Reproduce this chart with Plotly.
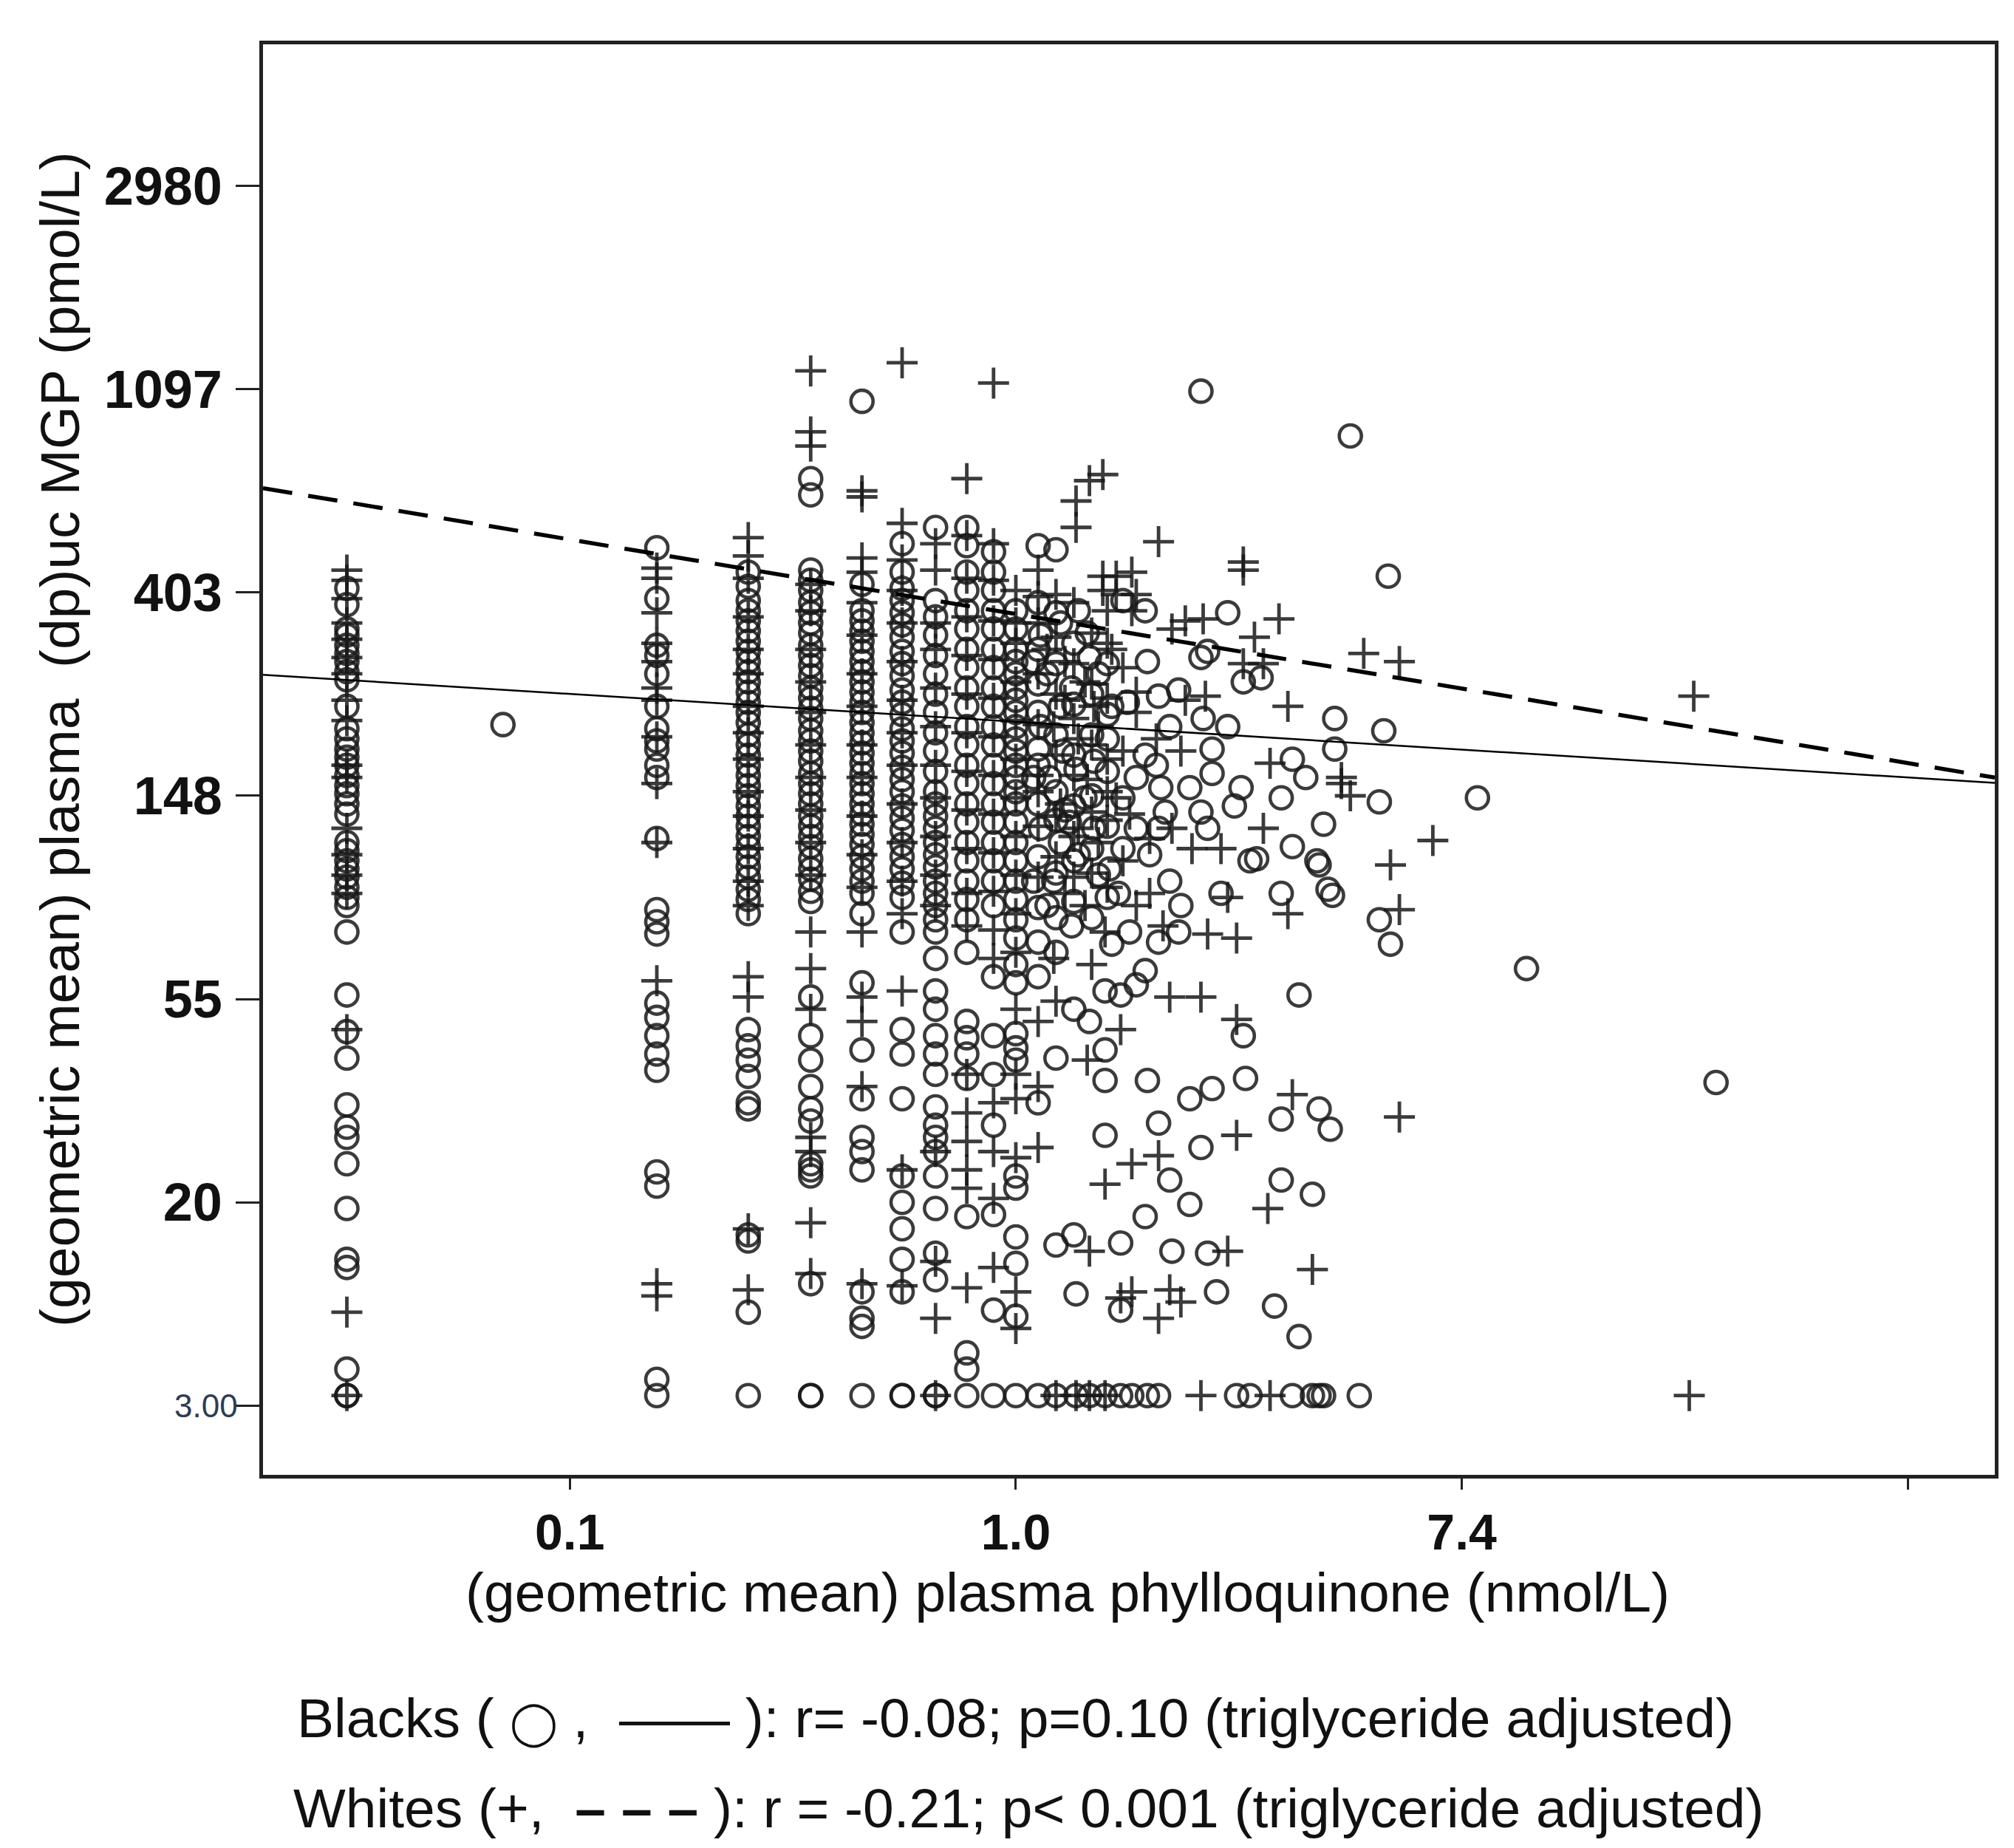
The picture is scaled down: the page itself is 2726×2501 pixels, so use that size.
import plotly.graph_objects as go

# All values are on the natural-log scale used by the chart
# (ln phylloquinone [nmol/L], ln (dp)uc MGP [pmol/L]); ticks show back-transformed values.

# Phylloquinone levels where many measurements stack in columns (ln nmol/L)
pk_levels_ln = [-3.00, -2.30, -1.61, -1.20, -0.92, -0.69, -0.51, -0.36, -0.22, -0.10, 0.00]

black_col_mgp_ln = [
    [6.02, 5.94, 5.82, 5.79, 5.74, 5.70, 5.66, 5.61, 5.57, 5.44, 5.33, 5.28, 5.23, 5.19, 5.15, 5.10, 5.05, 5.01,
     4.96, 4.91, 4.77, 4.73, 4.68, 4.64, 4.60, 4.55, 4.50, 4.46, 4.33, 4.02, 3.84, 3.71, 3.48, 3.37, 3.32, 3.19,
     2.97, 2.72, 2.68, 2.18, 2.05, 2.05],
    [5.35],
    [6.22, 5.97, 5.74, 5.69, 5.60, 5.44, 5.33, 5.27, 5.23, 5.15, 5.09, 4.79, 4.44, 4.38, 4.32, 3.98, 3.91, 3.82,
     3.73, 3.65, 3.15, 3.08, 2.13, 2.05],
    [6.10, 6.03, 5.96, 5.91, 5.86, 5.81, 5.76, 5.71, 5.66, 5.61, 5.56, 5.51, 5.46, 5.41, 5.36, 5.30, 5.25, 5.20,
     5.15, 5.10, 5.05, 5.00, 4.95, 4.90, 4.85, 4.80, 4.75, 4.70, 4.65, 4.60, 4.54, 4.49, 4.42, 3.85, 3.77, 3.70,
     3.62, 3.49, 3.46, 2.84, 2.81, 2.46, 2.05],
    [6.56, 6.48, 6.11, 6.06, 6.01, 5.95, 5.90, 5.85, 5.80, 5.74, 5.69, 5.64, 5.59, 5.53, 5.48, 5.43, 5.38, 5.32,
     5.27, 5.22, 5.17, 5.11, 5.06, 5.01, 4.96, 4.90, 4.85, 4.80, 4.75, 4.69, 4.64, 4.59, 4.53, 4.48, 4.01, 3.82,
     3.70, 3.57, 3.46, 3.40, 3.19, 3.16, 3.13, 2.60, 2.05, 2.05],
    [6.94, 6.04, 5.91, 5.86, 5.81, 5.76, 5.71, 5.66, 5.61, 5.56, 5.51, 5.46, 5.41, 5.36, 5.31, 5.26, 5.21, 5.16,
     5.11, 5.06, 5.01, 4.96, 4.91, 4.86, 4.81, 4.76, 4.70, 4.64, 4.58, 4.52, 4.42, 4.08, 3.75, 3.51, 3.32, 3.25,
     3.16, 2.56, 2.43, 2.39, 2.05],
    [6.24, 6.10, 6.02, 5.96, 5.90, 5.84, 5.78, 5.71, 5.65, 5.59, 5.52, 5.46, 5.40, 5.33, 5.27, 5.21, 5.14, 5.08,
     5.02, 4.95, 4.89, 4.83, 4.76, 4.70, 4.64, 4.57, 4.50, 4.33, 3.85, 3.73, 3.51, 3.13, 3.00, 2.87, 2.72, 2.56,
     2.05, 2.05],
    [6.32, 5.96, 5.88, 5.79, 5.69, 5.60, 5.50, 5.41, 5.31, 5.22, 5.12, 5.02, 4.96, 4.90, 4.84, 4.77, 4.71, 4.65,
     4.58, 4.52, 4.46, 4.39, 4.33, 4.20, 4.04, 3.95, 3.82, 3.73, 3.63, 3.47, 3.38, 3.32, 3.25, 3.13, 2.97, 2.75,
     2.62, 2.05, 2.05],
    [6.32, 6.23, 6.10, 6.01, 5.91, 5.82, 5.72, 5.63, 5.53, 5.44, 5.34, 5.25, 5.15, 5.06, 4.96, 4.87, 4.77, 4.68,
     4.58, 4.49, 4.39, 4.23, 3.89, 3.81, 3.73, 3.61, 2.93, 2.26, 2.18, 2.05],
    [6.20, 6.10, 6.01, 5.91, 5.82, 5.72, 5.63, 5.53, 5.44, 5.34, 5.25, 5.15, 5.06, 4.96, 4.87, 4.77, 4.68, 4.58,
     4.46, 4.11, 3.82, 3.63, 3.38, 2.94, 2.47, 2.05],
    [5.91, 5.82, 5.72, 5.66, 5.60, 5.53, 5.47, 5.41, 5.34, 5.28, 5.22, 5.15, 5.09, 5.02, 4.96, 4.87, 4.77, 4.68,
     4.58, 4.49, 4.39, 4.30, 4.17, 4.08, 3.83, 3.76, 3.70, 3.13, 3.07, 2.83, 2.70, 2.44, 2.05],
]

white_col_mgp_ln = [
    [6.11, 6.06, 5.97, 5.85, 5.77, 5.68, 5.60, 5.47, 5.37, 5.15, 5.09, 4.84, 4.71, 4.61, 4.52, 3.85, 2.46, 2.05],
    [],
    [6.12, 6.07, 5.90, 5.75, 5.66, 5.53, 5.47, 5.29, 5.06, 4.77, 4.09, 2.60, 2.54],
    [6.27, 6.18, 6.07, 5.88, 5.72, 5.60, 5.44, 5.31, 5.18, 5.02, 4.90, 4.74, 4.58, 4.46, 4.11, 4.01, 2.87, 2.57],
    [7.09, 6.79, 6.72, 6.04, 5.91, 5.72, 5.56, 5.41, 5.25, 5.09, 4.93, 4.77, 4.61, 4.33, 4.15, 3.95, 3.32, 3.25,
     2.90, 2.65],
    [6.50, 6.47, 6.17, 6.10, 5.95, 5.79, 5.60, 5.44, 5.25, 5.09, 4.90, 4.71, 4.55, 4.33, 4.01, 3.89, 3.57, 2.60],
    [7.13, 6.34, 6.16, 6.01, 5.85, 5.66, 5.47, 5.31, 5.15, 4.96, 4.77, 4.58, 4.42, 4.04, 3.16, 2.59],
    [6.24, 6.11, 5.85, 5.72, 5.53, 5.34, 5.15, 4.99, 4.80, 4.61, 4.46, 3.25, 2.71, 2.43, 2.05],
    [6.56, 6.28, 6.07, 5.88, 5.69, 5.50, 5.31, 5.12, 4.93, 4.74, 4.52, 4.36, 3.63, 3.44, 3.30, 3.16, 3.07, 2.58],
    [7.03, 6.24, 6.06, 5.86, 5.67, 5.48, 5.29, 5.10, 4.91, 4.72, 4.53, 4.34, 4.20, 3.49, 3.25, 3.02, 2.68],
    [6.01, 5.85, 5.75, 5.56, 5.37, 5.18, 4.99, 4.80, 4.61, 4.42, 4.23, 3.95, 3.63, 3.51, 3.22, 2.56, 2.38],
]

# Scattered measurements above 1 nmol/L: (ln phylloquinone, ln MGP)
black_scatter = [
    (0.83, 6.99), (1.50, 6.77), (1.67, 6.08), (0.10, 6.23), (0.18, 6.21), (0.95, 5.90), (0.58, 5.91), (0.48, 5.96),
    (0.32, 5.80), (0.33, 5.68), (0.59, 5.66), (0.83, 5.68), (0.86, 5.71), (1.02, 5.56), (1.10, 5.58), (0.73, 5.52),
    (0.64, 5.49), (0.50, 5.46), (0.84, 5.38), (0.95, 5.34), (1.43, 5.38), (1.65, 5.32), (1.43, 5.23), (0.88, 5.23),
    (1.24, 5.18), (1.30, 5.09), (0.88, 5.11), (0.78, 5.04), (1.01, 5.04), (0.98, 4.95), (1.19, 4.99), (1.63, 4.97),
    (2.07, 4.99), (1.38, 4.86), (1.24, 4.75), (1.35, 4.68), (1.08, 4.69), (0.83, 4.92), (0.86, 4.84), (0.65, 5.04),
    (0.58, 5.20), (0.41, 5.28), (0.35, 5.17), (0.27, 5.13), (0.10, 5.23), (0.35, 4.84), (0.24, 4.87), (0.67, 4.92),
    (0.64, 4.84), (0.42, 4.64), (1.05, 4.68), (1.36, 4.66), (1.19, 4.52), (1.40, 4.54), (1.42, 4.51), (1.63, 4.39),
    (1.68, 4.27), (2.29, 4.15), (1.27, 4.02), (1.02, 3.82), (1.03, 3.61), (0.88, 3.56), (0.78, 3.51), (0.64, 3.39),
    (0.40, 3.33), (0.83, 3.27), (1.36, 3.46), (1.41, 3.36), (1.19, 3.41), (1.19, 3.11), (1.33, 3.04), (0.69, 3.11),
    (0.78, 2.99), (0.58, 2.93), (0.47, 2.80), (0.70, 2.76), (0.86, 2.75), (0.90, 2.56), (1.16, 2.49), (1.27, 2.34),
    (0.27, 2.55), (0.47, 2.47), (0.26, 2.84), (0.18, 2.79), (0.64, 4.28), (0.73, 4.33), (0.58, 4.14), (0.54, 4.07),
    (0.47, 4.02), (0.40, 4.04), (0.33, 3.89), (0.26, 3.95), (0.18, 3.71), (0.40, 3.60), (0.40, 3.75), (0.59, 3.60),
    (0.18, 4.23), (0.10, 4.28), (0.10, 4.11), (0.10, 3.49), (3.14, 3.59),
    (0.11, 4.84), (0.20, 4.77), (0.28, 4.71), (0.37, 4.61), (0.46, 4.52), (0.17, 4.58), (0.25, 4.36), (0.43, 4.27),
    (0.51, 4.33), (0.14, 4.46), (0.22, 4.93), (0.31, 4.99), (0.48, 4.99), (0.54, 5.09), (0.63, 5.15), (0.69, 5.34),
    (0.43, 5.44), (0.20, 5.44), (0.14, 5.60), (0.25, 5.53), (0.37, 5.60), (0.11, 5.79), (0.20, 5.85), (0.28, 5.91),
    (0.15, 5.09), (0.11, 5.34), (0.21, 5.22), (0.54, 4.84), (0.60, 4.71), (0.69, 4.58), (0.48, 4.74), (0.74, 4.46),
    (0.92, 4.52), (0.08, 5.66), (0.08, 5.09), (0.08, 4.58),
    (0.10, 5.95), (0.10, 5.72), (0.10, 5.55), (0.10, 5.41), (0.10, 5.15), (0.10, 4.96), (0.10, 4.70), (0.10, 4.45),
    (0.18, 5.90), (0.18, 5.65), (0.18, 5.30), (0.18, 5.02), (0.18, 4.88), (0.18, 4.62), (0.18, 4.40),
    (0.26, 5.75), (0.26, 5.45), (0.26, 5.20), (0.26, 4.95), (0.26, 4.68), (0.26, 4.48),
    (0.34, 5.50), (0.34, 5.30), (0.34, 5.00), (0.34, 4.74), (0.34, 4.40),
    (0.41, 5.65), (0.41, 5.40), (0.41, 5.12), (0.41, 4.85), (0.41, 4.50),
    (0.10, 2.05), (0.18, 2.05), (0.27, 2.05), (0.33, 2.05), (0.40, 2.05), (0.47, 2.05), (0.52, 2.05), (0.59, 2.05),
    (0.64, 2.05), (0.99, 2.05), (1.05, 2.05), (1.24, 2.05), (1.33, 2.05), (1.36, 2.05), (1.38, 2.05), (1.54, 2.05),
]

white_scatter = [
    (0.27, 6.32), (0.27, 6.45), (0.33, 6.55), (0.39, 6.58), (0.64, 6.25), (1.02, 6.15), (1.02, 6.11), (1.18, 5.87),
    (1.56, 5.70), (1.72, 5.66), (1.07, 5.78), (0.76, 5.86), (0.84, 5.87), (0.52, 6.10), (0.39, 6.08), (0.45, 6.08),
    (0.39, 6.01), (0.45, 5.99), (0.54, 5.99), (0.41, 5.91), (0.52, 5.91), (0.70, 5.82), (1.02, 5.65), (1.11, 5.65),
    (1.22, 5.44), (1.14, 5.16), (1.46, 5.06), (1.50, 5.00), (1.46, 5.09), (0.76, 5.47), (0.85, 5.49), (0.54, 5.51),
    (0.54, 5.41), (0.35, 5.44), (0.22, 5.47), (0.10, 5.98), (0.18, 5.99), (0.10, 6.11), (0.41, 5.02), (0.45, 4.99),
    (0.51, 4.91), (0.74, 5.22), (0.70, 4.84), (0.60, 4.79), (0.79, 4.74), (0.92, 4.74), (1.11, 4.84), (1.87, 4.78),
    (1.68, 4.66), (1.72, 4.44), (1.22, 4.42), (0.95, 4.50), (0.86, 4.32), (0.99, 4.30), (0.69, 4.01), (0.83, 4.01),
    (0.47, 3.85), (0.32, 3.70), (0.99, 3.90), (1.24, 3.53), (1.72, 3.42), (0.99, 3.33), (0.64, 3.23), (0.52, 3.19),
    (0.40, 3.09), (1.13, 2.97), (1.33, 2.67), (0.95, 2.76), (0.33, 2.76), (0.52, 2.56), (0.47, 2.53), (0.69, 2.57),
    (0.74, 2.51), (0.64, 2.43), (0.10, 3.27), (0.10, 3.57), (0.10, 3.89), (0.18, 3.99), (0.32, 5.08), (0.10, 5.02),
    (3.04, 5.49),
    (0.14, 5.72), (0.22, 5.66), (0.31, 5.56), (0.43, 5.72), (0.48, 5.63), (0.17, 5.34), (0.28, 5.28), (0.37, 5.34),
    (0.48, 5.22), (0.63, 5.28), (0.20, 4.96), (0.28, 4.84), (0.37, 4.77), (0.48, 4.68), (0.60, 4.52), (0.22, 4.52),
    (0.31, 4.46), (0.40, 4.33), (0.54, 4.46), (0.66, 4.36), (0.17, 4.20), (0.34, 4.17),
    (0.10, 5.85), (0.10, 5.60), (0.10, 5.35), (0.10, 5.10), (0.10, 4.85), (0.10, 4.60),
    (0.18, 5.78), (0.18, 5.50), (0.18, 5.20), (0.18, 4.90), (0.18, 4.70),
    (0.26, 5.95), (0.26, 5.65), (0.26, 5.38), (0.26, 5.10), (0.26, 4.80), (0.26, 4.60),
    (0.34, 5.80), (0.34, 5.55), (0.34, 5.25), (0.34, 4.92), (0.34, 4.62),
    (0.41, 5.75), (0.41, 5.48), (0.41, 5.18), (0.41, 4.88), (0.41, 4.55),
    (3.02, 2.05), (0.83, 2.05), (1.14, 2.05), (0.18, 2.05), (0.27, 2.05), (0.33, 2.05), (0.40, 2.05),
]

# Regression fits on the ln-ln scale: (intercept, slope)
black_fit = (5.364, -0.0685)
white_fit = (5.894, -0.1833)

x_range_ln = [-3.376, 4.390]
y_range_ln = [1.66, 8.696]
x_ticks_ln = [-2, 0, 2, 4]
x_tick_text = ["0.1", "1.0", "7.4", ""]
y_ticks_ln = [2, 3, 4, 5, 6, 7, 8]
y_tick_text = ["3.00", "20", "55", "148", "403", "1097", "2980"]


def expand(levels, cols, scatter):
    xs, ys = [], []
    for lv, vals in zip(levels, cols):
        xs += [lv] * len(vals)
        ys += list(vals)
    for px, py in scatter:
        xs.append(px)
        ys.append(py)
    return xs, ys


bx, by = expand(pk_levels_ln, black_col_mgp_ln, black_scatter)
wx, wy = expand(pk_levels_ln, white_col_mgp_ln, white_scatter)

mark_col = "rgba(25,25,25,0.85)"
FONT = "Liberation Sans, Arial, sans-serif"

fig = go.Figure()
fig.add_trace(go.Scatter(x=wx, y=wy, mode="markers", name="Whites",
                         marker=dict(symbol="cross-thin-open", size=30, color=mark_col,
                                     line=dict(width=4.8, color=mark_col))))
fig.add_trace(go.Scatter(x=bx, y=by, mode="markers", name="Blacks",
                         marker=dict(symbol="circle-open", size=30, color=mark_col,
                                     line=dict(width=4.6, color=mark_col))))

for (a, b), dash, w in [(black_fit, "solid", 2.5), (white_fit, "40px,22px", 5.5)]:
    fig.add_trace(go.Scatter(x=x_range_ln, y=[a + b * x_range_ln[0], a + b * x_range_ln[1]],
                             mode="lines", line=dict(color="black", width=w, dash=dash),
                             showlegend=False))

# lowest tick label is drawn separately (smaller, lighter style in the reference)
y_ticktext = [""] + y_tick_text[1:]

fig.update_layout(
    width=2726, height=2501,
    margin=dict(l=348, r=34, t=52, b=513, autoexpand=False),
    paper_bgcolor="white", plot_bgcolor="white",
    showlegend=False,
    font=dict(family=FONT, color="#111111"),
    xaxis=dict(range=x_range_ln, tickmode="array", tickvals=x_ticks_ln, ticktext=x_tick_text,
               showgrid=False, zeroline=False, showline=True, mirror=True, linecolor="#222222",
               linewidth=4.5, ticks="outside", ticklen=15, tickwidth=3, tickcolor="#222222",
               tickfont=dict(size=68, family=FONT, weight="bold", color="#111111"),
               automargin=False, ticklabelstandoff=0),
    yaxis=dict(range=y_range_ln, tickmode="array", tickvals=y_ticks_ln, ticktext=y_ticktext,
               showgrid=False, zeroline=False, showline=True, mirror=True, linecolor="#222222",
               linewidth=4.5, ticks="outside", ticklen=32, tickwidth=3, tickcolor="#222222",
               tickfont=dict(size=72, family=FONT, weight="bold", color="#111111"),
               automargin=False, ticklabelstandoff=4),
)

fig.add_annotation(xref="paper", yref="y", x=-0.0137, y=y_ticks_ln[0], text=y_tick_text[0],
                   showarrow=False, xanchor="right", yanchor="middle",
                   font=dict(family=FONT, size=44, color="#2d3d52"))

annots = [
    dict(text="(geometric mean) plasma  (dp)uc MGP (pmol/L)", x=-0.1173, y=0.514, textangle=-90, size=75),
    dict(text="(geometric mean) plasma phylloquinone (nmol/L)", x=0.4646, y=-0.082, size=75),
    dict(text='Blacks ( <span style="font-size:58px">\u25EF</span> ,  \u2014\u2014 ): '
              'r= -0.08; p=0.10 (triglyceride adjusted)',
         x=0.4347, y=-0.1699, size=75),
    dict(text="Whites (+,  <b>\u2013 \u2013 \u2013</b> ): r = -0.21; p< 0.001 (triglyceride adjusted)",
         x=0.4424, y=-0.2330, size=75),
]
for an in annots:
    fig.add_annotation(xref="paper", yref="paper", showarrow=False, xanchor="center", yanchor="middle",
                       text=an["text"], x=an["x"], y=an["y"], textangle=an.get("textangle", 0),
                       font=dict(family=FONT, color="#111111", size=an["size"]))

fig.write_html("out.html")
